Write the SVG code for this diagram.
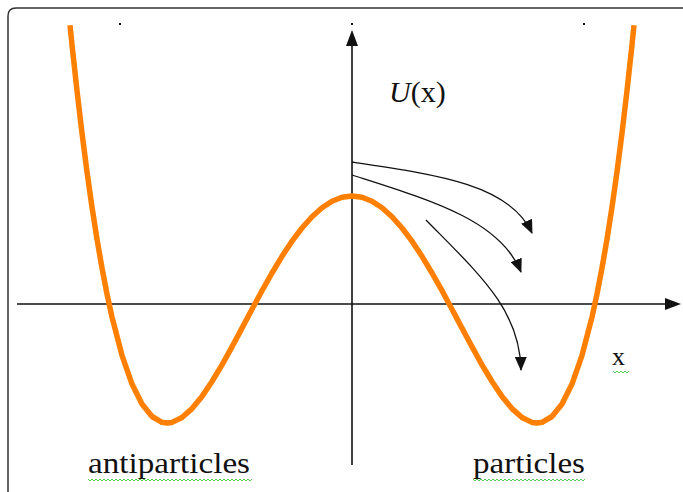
<svg xmlns="http://www.w3.org/2000/svg" width="683" height="492" viewBox="0 0 683 492">
<style>
.axis{stroke:#111;stroke-width:1.6;fill:none}
.arr{stroke:#111;stroke-width:1.3;fill:none;marker-end:url(#head)}
.curve{stroke:#FF8000;stroke-width:5.5;fill:none;stroke-linejoin:round;stroke-linecap:butt}
.lbl{font-family:"Liberation Serif","Times New Roman",serif;fill:#111}
.squig{stroke:#5c5;stroke-width:1;fill:none}
</style>
<defs>
<marker id="head" markerWidth="14" markerHeight="12" refX="13" refY="6" orient="auto" markerUnits="userSpaceOnUse">
<path d="M0,0 L14,6 L0,12 Z" fill="#111"/>
</marker>
</defs>
<rect width="683" height="492" fill="#fff"/>
<path d="M8,492 L8,16 Q8,8 16,8 L683,8" fill="none" stroke="#333" stroke-width="1.5"/>
<g id="dots" fill="#111">
<rect x="119" y="23" width="2" height="2"/>
<rect x="351" y="23" width="2" height="2"/>
<rect x="583" y="23" width="2" height="2"/>
</g>
<g id="connectors">
<line class="axis" x1="352" y1="44" x2="352" y2="465"/>
<path d="M352,30 L346,46 L358,46 Z" fill="#111"/>
<line class="axis" x1="17" y1="304" x2="666" y2="304"/>
<path d="M681,304 L665,298 L665,310 Z" fill="#111"/>
<path class="arr" d="M352,162 C440,175 510,185 532,233"/>
<path class="arr" d="M352,175 C430,200 500,220 521,272"/>
<path class="arr" d="M426,220 C480,275 520,310 521,370"/>
</g>
<g id="potential">
<polyline class="curve" points="70,25.3 72,44.8 77,90.8 82,133.1 87,171.8 92,207.1 97,239.2 102,268.1 107,294 112,317.1 122,355.4 132,384.1 142,404.1 152,416.5 162,422.3 167,423 172,422.4 182,417.5 192,408.6 202,396.4 212,381.5 222,364.8 232,346.8 242,328.1 252,309.3 262,290.7 272,273 282,256.3 292,241.2 302,228 312,216.7 322,207.8 332,201.3 342,197.3 352,196 362,197.3 372,201.3 382,207.8 392,216.7 402,228 412,241.2 422,256.3 432,273 442,290.7 452,309.3 462,328.1 472,346.8 482,364.8 492,381.5 502,396.4 512,408.6 522,417.5 532,422.4 537,423 542,422.3 552,416.5 562,404.1 572,384.1 582,355.4 592,317.1 597,294 602,268.1 607,239.2 612,207.1 617,171.8 622,133.1 627,90.8 632,44.8 634,25.3"/>
</g>
<g id="label-U">
<text class="lbl" x="389" y="102" font-size="30"><tspan font-style="italic">U</tspan>(x)</text>
</g>
<g id="label-x">
<text class="lbl" x="612" y="365" font-size="26">x</text>
<path class="squig" d="M613,371 l2,2 l2,-2 l2,2 l2,-2 l2,2 l2,-2 l2,2 l2,-2"/>
</g>
<g id="label-antiparticles">
<text class="lbl" x="88" y="473" font-size="30" textLength="162" lengthAdjust="spacingAndGlyphs">antiparticles</text>
<path class="squig" d="M88,479 l2,2 l2,-2 l2,2 l2,-2 l2,2 l2,-2 l2,2 l2,-2 l2,2 l2,-2 l2,2 l2,-2 l2,2 l2,-2 l2,2 l2,-2 l2,2 l2,-2 l2,2 l2,-2 l2,2 l2,-2 l2,2 l2,-2 l2,2 l2,-2 l2,2 l2,-2 l2,2 l2,-2 l2,2 l2,-2 l2,2 l2,-2 l2,2 l2,-2 l2,2 l2,-2 l2,2 l2,-2 l2,2 l2,-2 l2,2 l2,-2 l2,2 l2,-2 l2,2 l2,-2 l2,2 l2,-2 l2,2 l2,-2 l2,2 l2,-2 l2,2 l2,-2 l2,2 l2,-2 l2,2 l2,-2 l2,2 l2,-2 l2,2 l2,-2 l2,2 l2,-2 l2,2 l2,-2 l2,2 l2,-2 l2,2 l2,-2 l2,2 l2,-2 l2,2 l2,-2 l2,2 l2,-2 l2,2 l2,-2 l2,2 l2,-2"/>
</g>
<g id="label-particles">
<text class="lbl" x="473" y="473" font-size="30" textLength="112" lengthAdjust="spacingAndGlyphs">particles</text>
<path class="squig" d="M473,479 l2,2 l2,-2 l2,2 l2,-2 l2,2 l2,-2 l2,2 l2,-2 l2,2 l2,-2 l2,2 l2,-2 l2,2 l2,-2 l2,2 l2,-2 l2,2 l2,-2 l2,2 l2,-2 l2,2 l2,-2 l2,2 l2,-2 l2,2 l2,-2 l2,2 l2,-2 l2,2 l2,-2 l2,2 l2,-2 l2,2 l2,-2 l2,2 l2,-2 l2,2 l2,-2 l2,2 l2,-2 l2,2 l2,-2 l2,2 l2,-2 l2,2 l2,-2 l2,2 l2,-2 l2,2 l2,-2 l2,2 l2,-2 l2,2 l2,-2 l2,2 l2,-2"/>
</g>
</svg>
